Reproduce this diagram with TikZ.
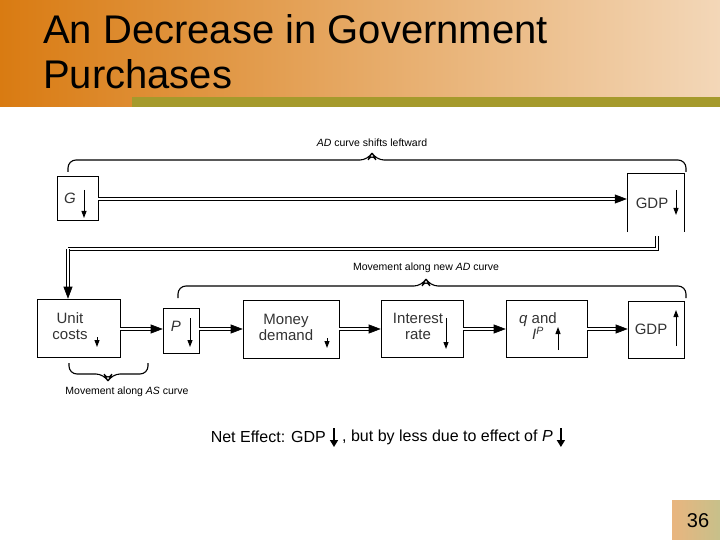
\documentclass[tikz,border=0pt]{standalone}
\usepackage{fontspec}
\setmainfont{Liberation Sans}
\usetikzlibrary{arrows.meta,decorations.pathreplacing,positioning}
\definecolor{hdA}{HTML}{D97B12}
\definecolor{hdB}{HTML}{F3D7B8}
\definecolor{olive}{HTML}{A59A2C}
\definecolor{pgA}{HTML}{E9B57F}
\definecolor{pgB}{HTML}{C7C08A}
\tikzset{
  bx/.style={draw,line width=0.6pt,inner sep=0pt},
  lbl/.style={font=\fontsize{15}{16}\selectfont,align=center,inner sep=0pt,text=black!80},
  small/.style={font=\fontsize{10.5}{11}\selectfont,inner sep=0pt},
  dbl/.style={double,double distance=2.2pt,line width=0.6pt,-{Triangle[length=12pt,width=9pt]}},
  dbll/.style={double,double distance=2.2pt,line width=0.6pt},
  ar/.style={line width=1pt,-{Triangle[length=7pt,width=5pt]}},
  big/.style={line width=1.6pt,-{Triangle[length=7pt,width=8pt]}},
  brc/.style={line width=1.1pt,rounded corners=8pt},
}
\begin{document}
\begin{tikzpicture}[x=1pt,y=-1pt]
\useasboundingbox (0,0) rectangle (720,540);
\shade[left color=hdA,right color=hdB] (0,0) rectangle (720,107);
\fill[olive] (132,97) rectangle (720,107);
\node[anchor=west,font=\fontsize{40}{45}\selectfont,align=left,inner sep=0pt] (title) at (43,52) {An Decrease in Government\\Purchases};
\shade[left color=pgA,right color=pgB] (672,500) rectangle (720,540);
\node[font=\fontsize{20}{22}\selectfont] (pg) at (698,521) {36};

% top row
\node[bx,minimum width=41pt,minimum height=44pt] (G) at (77.5,198) {};
\node[lbl,font=\fontsize{15}{16}\selectfont\itshape] (Gt) at (70,198) {G};
\draw[ar] (84,190) -- (84,218);
\node[minimum width=57pt,minimum height=58pt,inner sep=0pt] (GDP1) at (655.5,203) {};
\draw[line width=0.6pt] (GDP1.south west) |- (GDP1.north east) -- (GDP1.south east);
\node[lbl] (GDP1t) at (652,203) {GDP};
\draw[ar] (676,190) -- (676,215);
\draw[dbl] (G.east |- 0,199) -- (GDP1.west |- 0,199);
\coordinate (c1) at (657,236);
\coordinate (c2) at (68,249);
\draw[dbll] (c1) |- (c2);

% brace top
\draw[brc] (68,172) -- (68,160) -- (368,160) -- (372,153) -- (376,160) -- (686,160) -- (686,172);
\node[small] (bt) at (372,143) {\textit{AD} curve shifts leftward};

% bottom row
\node[bx,minimum width=83pt,minimum height=58pt] (UC) at (78.5,328) {};
\node[lbl] at (70,326) {Unit\\costs};
\draw[ar] (97,337) -- (97,347);
\node[bx,minimum width=36pt,minimum height=45pt] (P) at (181,330.5) {};
\node[lbl,font=\fontsize{15}{16}\selectfont\itshape] at (176,326) {P};
\draw[ar] (190,318) -- (190,347);
\node[bx,minimum width=96pt,minimum height=58pt] (MD) at (291,329) {};
\node[lbl] at (286,327) {Money\\demand};
\draw[ar] (327,338) -- (327,348);
\node[bx,minimum width=82pt,minimum height=57pt] (IR) at (422,328.5) {};
\node[lbl] at (418,326) {Interest\\rate};
\draw[ar] (446,318) -- (446,349);
\node[bx,minimum width=81pt,minimum height=57pt] (Q) at (546.5,328.5) {};
\node[lbl] at (538,326) {\textit{q} and\\\textit{I}\textsuperscript{\textit{P}}};
\draw[ar] (558,350) -- (558,327);
\node[bx,minimum width=56pt,minimum height=57pt] (GDP2) at (656,329.5) {};
\node[lbl] at (651,329) {GDP};
\draw[ar] (676,346) -- (676,310);

\draw[dbl] (c2) -- (UC.north -| c2);
\draw[dbl] (UC.east |- 0,329) -- (P.west |- 0,329);
\draw[dbl] (P.east |- 0,329) -- (MD.west |- 0,329);
\draw[dbl] (MD.east |- 0,329) -- (IR.west |- 0,329);
\draw[dbl] (IR.east |- 0,329) -- (Q.west |- 0,329);
\draw[dbl] (Q.east |- 0,329) -- (GDP2.west |- 0,329);

% brace middle
\draw[brc] (178,298) -- (178,286) -- (422,286) -- (426,279) -- (430,286) -- (686,286) -- (686,298);
\node[small] (bm) at (426,268) {Movement along new \textit{AD} curve};

% brace lower
\draw[brc] (69,363) -- (69,374) -- (104,374) -- (108,381) -- (112,374) -- (148,374) -- (148,363);
\node[small] (bl) at (127,392) {Movement along \textit{AS} curve};

\node[font=\fontsize{16}{18}\selectfont,inner sep=0pt,anchor=east] (net1) at (326,437) {Net Effect: GDP};
\node[font=\fontsize{16}{18}\selectfont,inner sep=0pt,anchor=west] (net2) at (342,437) {, but by less due to effect of \textit{P}};
\coordinate (a1) at (334,428);
\coordinate (a2) at ([xshift=8pt]net2.east);
\draw[big] (a1) -- ++(0,19);
\draw[big] (a2 |- a1) -- ++(0,19);
\end{tikzpicture}
\end{document}
